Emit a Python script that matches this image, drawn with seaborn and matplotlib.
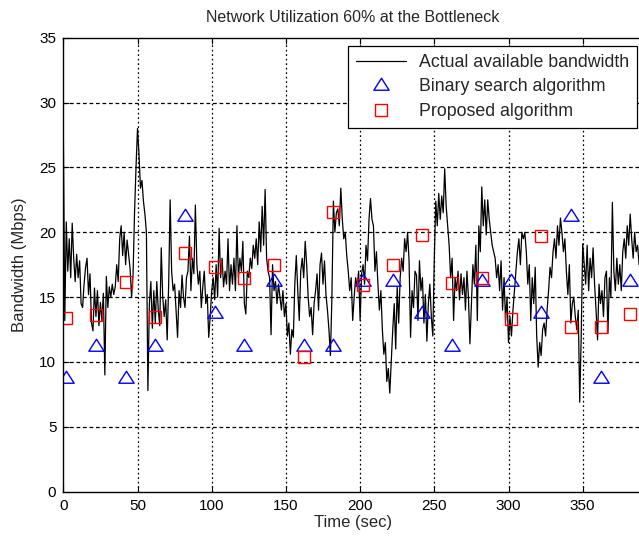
import numpy as np
import pandas as pd
import seaborn as sns
import matplotlib
matplotlib.use("Agg")
import matplotlib.pyplot as plt
from matplotlib.path import Path

# available bandwidth, one value per second (0..388)
bw = [
    28.0, 13.2, 20.8, 17.0, 19.5, 16.5, 20.7, 18.0, 16.2, 18.3,
    16.5, 17.8, 14.5, 14.2, 16.0, 17.3, 18.0, 15.2, 16.8, 13.0,
    12.4, 15.7, 13.5, 15.5, 12.8, 14.6, 13.2, 15.3, 9.0, 16.6,
    14.2, 15.8, 15.0, 16.0, 15.2, 15.8, 17.5, 16.2, 19.5, 20.5,
    18.2, 20.0, 17.5, 19.4, 18.3, 17.2, 15.0, 16.7, 21.5, 25.0,
    28.0, 26.0, 23.4, 24.0, 22.4, 21.4, 20.0, 7.8, 14.5, 16.2,
    12.6, 15.5, 13.0, 16.2, 14.0, 12.8, 18.8, 15.0, 13.5, 14.8,
    11.7, 16.0, 22.5, 17.0, 15.5, 16.0, 14.0, 11.9, 15.5, 14.2,
    16.7, 15.0, 14.2, 16.5, 17.0, 19.7, 15.5, 18.0, 16.8, 22.1,
    17.5, 16.0, 17.0, 14.2, 15.8, 17.0, 14.5, 15.2, 11.9, 13.5,
    15.5, 16.5, 14.8, 17.5, 15.0, 20.3, 16.5, 18.0, 15.8, 17.0,
    16.0, 19.5, 15.5, 17.5, 16.0, 18.0, 15.5, 20.5, 16.5, 18.0,
    17.0, 19.3, 14.5, 13.7, 17.0, 16.5, 18.0, 17.2, 19.0, 18.0,
    19.5, 17.5, 20.8, 18.5, 22.0, 19.0, 23.3, 18.0, 17.0, 16.5,
    12.1, 17.5, 15.5, 16.2, 14.5, 16.0, 15.0, 14.0, 15.5, 13.5,
    14.5, 12.0, 13.0, 10.6, 12.5, 11.9, 16.0, 18.2, 15.5, 13.2,
    17.0, 18.0, 16.5, 19.3, 17.5, 15.0, 13.5, 14.2, 12.1, 14.5,
    15.5, 16.8, 14.0, 17.5, 18.4, 16.0, 17.8, 15.2, 14.0, 12.5,
    10.5, 15.0, 22.4, 20.0, 21.5, 21.8, 20.5, 23.4, 21.0, 19.5,
    20.0, 18.2, 17.0, 15.5, 16.5, 13.2, 15.0, 16.5, 15.8, 17.0,
    13.2, 16.8, 17.5, 16.0, 19.0, 17.8, 21.0, 22.6, 21.0, 20.5,
    17.0, 18.5, 16.0, 14.0, 15.5, 12.5, 10.6, 11.5, 8.5, 9.5,
    7.6, 10.0, 12.5, 14.5, 11.0, 15.8, 13.0, 16.5, 18.0, 17.0,
    19.5, 18.5, 20.0, 17.8, 11.9, 15.5, 14.2, 17.0, 16.7, 13.2,
    17.8, 15.5, 16.5, 13.0, 15.2, 11.6, 14.5, 16.0, 13.5, 12.0,
    18.0, 22.4, 20.5, 23.0, 21.0, 22.8, 21.5, 24.9, 22.0, 20.5,
    19.0, 16.5, 18.0, 13.2, 16.5, 15.5, 17.0, 14.8, 16.8, 15.2,
    16.5, 14.0, 17.0, 15.0, 11.4, 14.5, 17.5, 16.0, 19.0, 13.2,
    20.5, 18.5, 23.5, 20.5, 22.5, 19.8, 22.5, 21.0, 20.0, 19.0,
    18.5, 18.0, 16.5, 17.5, 15.5, 17.8, 14.0, 16.5, 13.2, 15.0,
    11.5, 13.5, 12.0, 14.0, 15.5, 17.0, 18.5, 19.5, 17.5, 20.0,
    19.5, 20.0, 18.5, 16.0, 17.5, 13.2, 16.5, 14.5, 17.3, 12.0,
    9.6, 11.5, 10.5, 12.5, 13.0, 12.0, 14.0, 15.5, 17.3, 16.5,
    18.5, 19.5, 18.0, 20.5, 19.0, 21.1, 20.0, 18.5, 19.5, 17.0,
    15.2, 17.5, 13.0, 14.5, 15.0, 13.5, 12.5, 14.0, 6.9, 12.0,
    19.1, 17.5, 16.0, 19.0, 15.5, 18.0, 16.5, 18.8, 16.0, 14.0,
    11.7, 16.0, 14.5, 15.5, 13.5, 16.5, 17.0, 12.2, 16.5, 15.0,
    22.3, 17.0, 15.5, 18.0, 16.0, 17.5, 15.5, 18.5, 19.5, 18.0,
    20.5, 19.0, 21.4, 19.5, 18.0, 20.0, 18.5, 19.0, 17.5,
]
t = list(range(len(bw)))

# probe times and estimates
probe_t = [2, 22, 42, 62, 82, 102, 122, 142, 162, 182,
           202, 222, 242, 262, 282, 302, 322, 342, 362, 382]
binary = [8.75, 11.25, 8.75, 11.25, 21.25, 13.75, 11.25, 16.25, 11.25, 11.25,
          16.25, 16.25, 13.75, 11.25, 16.25, 16.25, 13.75, 21.25, 8.75, 16.25]
proposed = [13.4, 13.6, 16.2, 13.5, 18.4, 17.3, 16.5, 17.5, 10.4, 21.6,
            15.9, 17.5, 19.8, 16.1, 16.5, 13.3, 19.7, 12.7, 12.7, 13.7]

line_df = pd.DataFrame({"t": t, "bw": bw})
probe_df = pd.DataFrame({"t": probe_t, "binary": binary, "proposed": proposed})

sns.set_style("white")
plt.rcParams["font.family"] = ["Liberation Sans", "DejaVu Sans"]

fig = plt.figure(figsize=(6.39, 5.38), dpi=100)
ax = fig.add_axes([63.3 / 639, 46.3 / 538, 390 * 1.484 / 639, 454 / 538])

# wider-than-tall triangle like matlab's
tri = Path([(-1, -0.62), (1, -0.62), (0, 0.95), (-1, -0.62)],
           [Path.MOVETO, Path.LINETO, Path.LINETO, Path.CLOSEPOLY])

sns.lineplot(data=line_df, x="t", y="bw", ax=ax, color="black", lw=0.9,
             label="Actual available bandwidth")
sns.lineplot(data=probe_df, x="t", y="binary", ax=ax, linestyle="", marker=tri,
             markersize=11, markerfacecolor="none", markeredgecolor="blue",
             markeredgewidth=1.0, label="Binary search algorithm")
sns.lineplot(data=probe_df, x="t", y="proposed", ax=ax, linestyle="", marker="s",
             markersize=8.5, markerfacecolor="none", markeredgecolor="red",
             markeredgewidth=1.0, label="Proposed algorithm")

ax.set_xlim(0, 390)
ax.set_ylim(0, 35)
ax.set_xticks(range(0, 351, 50))
ax.set_yticks(range(0, 36, 5))

for yv in range(5, 35, 5):
    ax.axhline(yv, color="black", lw=0.9, linestyle=(0, (3, 2.2)), zorder=0)
for xv in range(50, 351, 50):
    ax.axvline(xv, color="black", lw=0.9, linestyle=(0, (1.4, 2.2)), zorder=0)

for s in ["left", "bottom", "top"]:
    ax.spines[s].set_color("black")
    ax.spines[s].set_linewidth(1.0)
ax.spines["right"].set_visible(False)
ax.tick_params(direction="in", length=4, width=0.8, top=True, left=True,
               bottom=True, labelsize=11, colors="black", pad=5)

ax.set_title("Network Utilization 60% at the Bottleneck", fontsize=11.5, pad=11)
ax.set_xlabel("Time (sec)", fontsize=12, labelpad=2)
ax.set_ylabel("Bandwidth (Mbps)", fontsize=12, labelpad=9)

handles, labels = ax.get_legend_handles_labels()
leg = ax.legend(handles, labels, loc="upper left",
                bbox_to_anchor=(348 / 639, 1 - 46 / 538),
                bbox_transform=fig.transFigure, fontsize=12.8, frameon=True,
                fancybox=False, edgecolor="black", framealpha=1,
                handlelength=2.8, borderpad=0.45, labelspacing=0.42,
                handletextpad=0.75, borderaxespad=0)
leg.get_frame().set_linewidth(0.9)

fig.savefig("out.png", dpi=100)
